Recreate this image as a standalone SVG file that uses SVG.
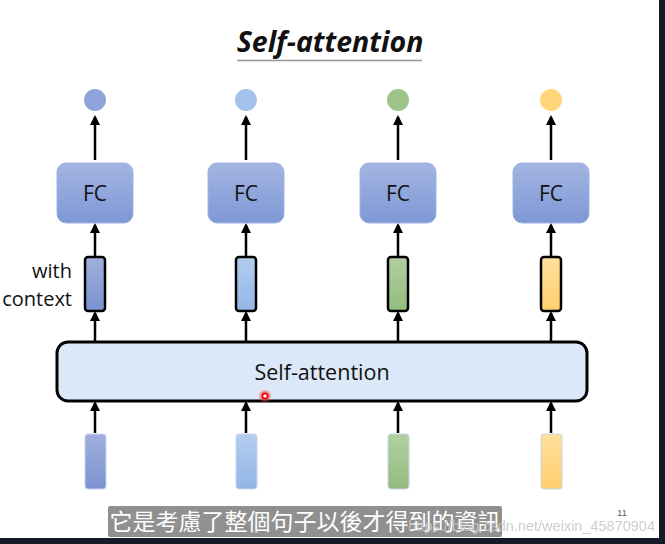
<svg xmlns="http://www.w3.org/2000/svg" width="665" height="544" viewBox="0 0 665 544">
<defs>
<style>
.arrow{stroke:#000;stroke-width:2.5;fill:none;marker-end:url(#ah)}
.fc{stroke:#9fb3e0;stroke-width:1}
.fctxt{font-family:"Open Sans","Liberation Sans",sans-serif;font-size:21px;fill:#111;text-anchor:middle}
.vec{stroke:#000;stroke-width:2.5}
.inp{stroke:#c7d5ef;stroke-width:1}
.lbl{font-family:"Open Sans","Liberation Sans",sans-serif;font-size:20px;fill:#111;text-anchor:end}
</style>
<marker id="ah" viewBox="0 0 10 10" refX="8" refY="5" markerWidth="4" markerHeight="4" orient="auto" markerUnits="strokeWidth">
<path d="M0,0 L10,5 L0,10 z" fill="#000"/>
</marker>
<linearGradient id="gFC" x1="0" y1="0" x2="0" y2="1"><stop offset="0" stop-color="#a3b5e2"/><stop offset="1" stop-color="#7e98d5"/></linearGradient>
<linearGradient id="gB" x1="0" y1="0" x2="0" y2="1"><stop offset="0" stop-color="#9fb0dd"/><stop offset="1" stop-color="#7b93cf"/></linearGradient>
<linearGradient id="gL" x1="0" y1="0" x2="0" y2="1"><stop offset="0" stop-color="#b4cdef"/><stop offset="1" stop-color="#91b6e6"/></linearGradient>
<linearGradient id="gG" x1="0" y1="0" x2="0" y2="1"><stop offset="0" stop-color="#b1d0a0"/><stop offset="1" stop-color="#94bc7f"/></linearGradient>
<linearGradient id="gY" x1="0" y1="0" x2="0" y2="1"><stop offset="0" stop-color="#ffe09c"/><stop offset="1" stop-color="#ffcf6e"/></linearGradient>
<filter id="tex" x="0" y="0" width="1" height="1">
<feTurbulence type="fractalNoise" baseFrequency="0.12" numOctaves="3" seed="4" result="n"/>
<feColorMatrix in="n" type="matrix" values="0 0 0 0 0.70  0 0 0 0 0.81  0 0 0 0 0.95  0 0 0 1.6 -0.55" result="c"/>
<feComposite in="c" in2="SourceGraphic" operator="atop"/>
</filter>
<radialGradient id="red"><stop offset="0" stop-color="#ff2020"/><stop offset="0.5" stop-color="#ff3030" stop-opacity="0.7"/><stop offset="1" stop-color="#ff6060" stop-opacity="0"/></radialGradient>
</defs>
<rect x="0" y="0" width="665" height="544" fill="#fff"/>
<rect x="659" y="0" width="6" height="544" fill="#141a27"/>
<rect x="0" y="538" width="665" height="6" fill="#141a27"/>

<g id="title">
<text x="330" y="52" text-anchor="middle" font-family="Open Sans, Liberation Sans, sans-serif" font-size="28.5" font-weight="bold" font-style="italic" fill="#111">Self-attention</text>
<line x1="237" y1="60.5" x2="422" y2="60.5" stroke="#999" stroke-width="1.5"/>
</g>

<g id="connectors">
<line class="arrow" x1="95" y1="160" x2="95" y2="117"/>
<line class="arrow" x1="246" y1="160" x2="246" y2="117"/>
<line class="arrow" x1="398" y1="160" x2="398" y2="117"/>
<line class="arrow" x1="551" y1="160" x2="551" y2="117"/>
<line class="arrow" x1="95" y1="256" x2="95" y2="225"/>
<line class="arrow" x1="246" y1="256" x2="246" y2="225"/>
<line class="arrow" x1="398" y1="256" x2="398" y2="225"/>
<line class="arrow" x1="551" y1="256" x2="551" y2="225"/>
<line class="arrow" x1="95" y1="341" x2="95" y2="313"/>
<line class="arrow" x1="246" y1="341" x2="246" y2="313"/>
<line class="arrow" x1="398" y1="341" x2="398" y2="313"/>
<line class="arrow" x1="551" y1="341" x2="551" y2="313"/>
<line class="arrow" x1="95" y1="433" x2="95" y2="403"/>
<line class="arrow" x1="246" y1="433" x2="246" y2="403"/>
<line class="arrow" x1="398" y1="433" x2="398" y2="403"/>
<line class="arrow" x1="551" y1="433" x2="551" y2="403"/>
</g>

<g id="out1"><circle cx="95" cy="100" r="11" fill="#8fa4da"/></g>
<g id="out2"><circle cx="246" cy="100" r="11" fill="#a3c3ec"/></g>
<g id="out3"><circle cx="398" cy="100" r="11" fill="#9fc48b"/></g>
<g id="out4"><circle cx="551" cy="100" r="11" fill="#ffd67c"/></g>

<g id="fc1"><rect class="fc" x="57" y="163" width="76" height="60" rx="9" fill="url(#gFC)"/><text class="fctxt" x="95" y="201">FC</text></g>
<g id="fc2"><rect class="fc" x="208" y="163" width="76" height="60" rx="9" fill="url(#gFC)"/><text class="fctxt" x="246" y="201">FC</text></g>
<g id="fc3"><rect class="fc" x="360" y="163" width="76" height="60" rx="9" fill="url(#gFC)"/><text class="fctxt" x="398" y="201">FC</text></g>
<g id="fc4"><rect class="fc" x="513" y="163" width="76" height="60" rx="9" fill="url(#gFC)"/><text class="fctxt" x="551" y="201">FC</text></g>

<g id="label">
<text class="lbl" x="72" y="278">with</text>
<text class="lbl" x="72" y="306">context</text>
</g>

<g id="ctx1"><rect class="vec" x="85" y="257" width="20" height="54" rx="3" fill="url(#gB)"/></g>
<g id="ctx2"><rect class="vec" x="236" y="257" width="20" height="54" rx="3" fill="url(#gL)"/></g>
<g id="ctx3"><rect class="vec" x="388" y="257" width="20" height="54" rx="3" fill="url(#gG)"/></g>
<g id="ctx4"><rect class="vec" x="541" y="257" width="20" height="54" rx="3" fill="url(#gY)"/></g>

<g id="selfattention">
<rect x="57" y="342" width="530" height="59" rx="11" fill="#dce8f7" filter="url(#tex)"/>
<rect x="57" y="342" width="530" height="59" rx="11" fill="none" stroke="#000" stroke-width="3"/>
<text x="322" y="380" text-anchor="middle" font-family="Open Sans, Liberation Sans, sans-serif" font-size="21.5" fill="#111">Self-attention</text>
</g>

<g id="in1"><rect class="inp" x="85" y="434" width="21" height="55" rx="3" fill="url(#gB)"/></g>
<g id="in2"><rect class="inp" x="236" y="434" width="21" height="55" rx="3" fill="url(#gL)"/></g>
<g id="in3"><rect class="inp" x="388" y="434" width="21" height="55" rx="3" fill="url(#gG)"/></g>
<g id="in4"><rect class="inp" x="541" y="434" width="21" height="55" rx="3" fill="url(#gY)"/></g>

<g id="pointer">
<circle cx="265" cy="396" r="7" fill="url(#red)"/>
<circle cx="265" cy="396" r="2.5" fill="#fff" stroke="#e00" stroke-width="1.5"/>
</g>

<g id="caption">
<rect x="108" y="506" width="394" height="31" rx="2" fill="#8a8a8a" opacity="0.95"/>
<text x="305" y="530" text-anchor="middle" font-family="Noto Sans CJK TC, sans-serif" font-size="23" fill="#fff">它是考慮了整個句子以後才得到的資訊</text>
<text x="655" y="531" text-anchor="end" font-family="Liberation Sans, sans-serif" font-size="14.5" fill="#c8c8c8" opacity="0.9">https://blog.csdn.net/weixin_45870904</text>
<text x="622" y="516" text-anchor="middle" font-family="Liberation Sans, sans-serif" font-size="9" fill="#555">11</text>
</g>
</svg>
